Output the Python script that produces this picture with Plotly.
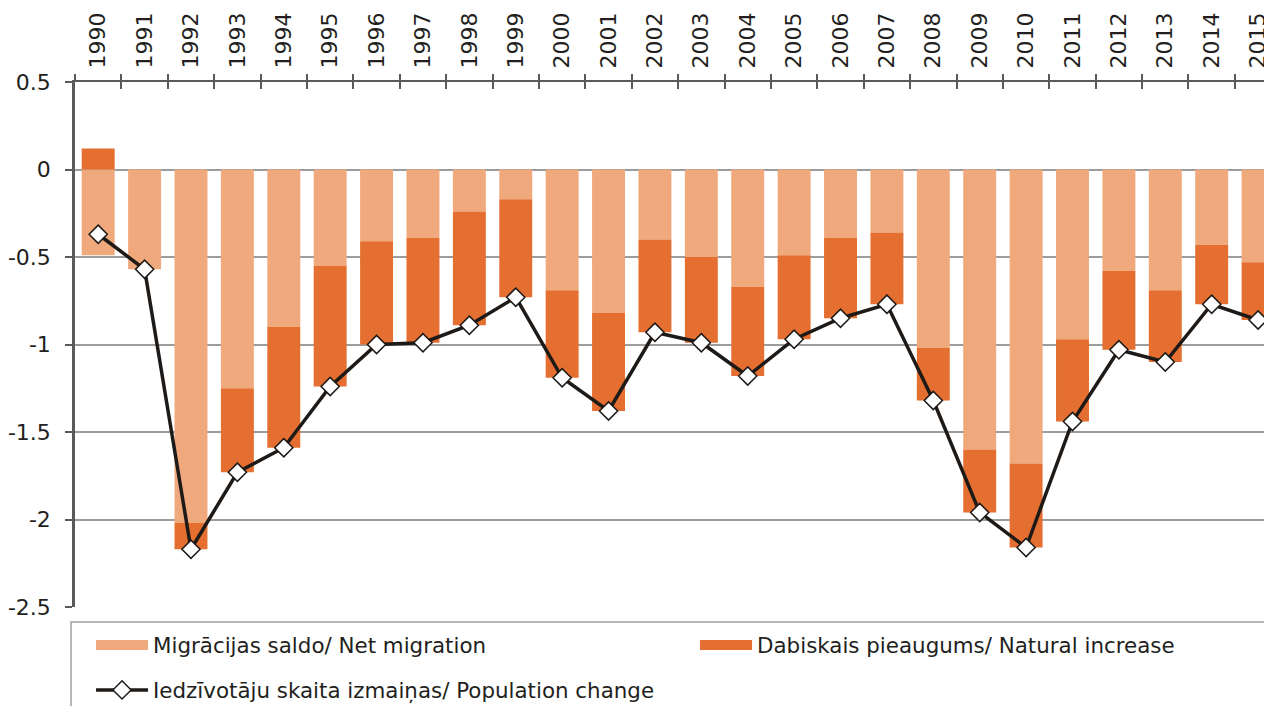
import plotly.graph_objects as go

# Data (% of population)
years = [str(y) for y in range(1990, 2016)]
net_migration = [-0.49, -0.57, -2.02, -1.25, -0.90, -0.55, -0.41, -0.39, -0.24, -0.17,
                 -0.69, -0.82, -0.40, -0.50, -0.67, -0.49, -0.39, -0.36, -1.02, -1.60,
                 -1.68, -0.97, -0.58, -0.69, -0.43, -0.53]
natural_increase = [0.12, 0.00, -0.15, -0.48, -0.69, -0.69, -0.59, -0.60, -0.65, -0.56,
                    -0.50, -0.56, -0.53, -0.49, -0.51, -0.48, -0.46, -0.41, -0.30, -0.36,
                    -0.48, -0.47, -0.45, -0.41, -0.34, -0.33]
population_change = [-0.37, -0.57, -2.17, -1.73, -1.59, -1.24, -1.00, -0.99, -0.89, -0.73,
                     -1.19, -1.38, -0.93, -0.99, -1.18, -0.97, -0.85, -0.77, -1.32, -1.96,
                     -2.16, -1.44, -1.03, -1.10, -0.77, -0.86]

y_ticks = [0.5, 0, -0.5, -1, -1.5, -2, -2.5]
y_tick_text = ['0.5', '0', '-0.5', '-1', '-1.5', '-2', '-2.5']

names = ['Migrācijas saldo/ Net migration',
         'Dabiskais pieaugums/ Natural increase',
         'Iedzīvotāju skaita izmaiņas/ Population change']

colors = {
    'migration': '#EFA97C',
    'natural': '#E46F30',
    'line': '#1E1A17',
    'axis': '#5A5A5A',
    'grid': '#9C9C9C',
    'text': '#231F20'
}

fig = go.Figure()

# stacked bars
fig.add_trace(go.Bar(
    x=years, y=net_migration, name=names[0], showlegend=False,
    marker=dict(color=colors['migration'], line=dict(width=0))
))
fig.add_trace(go.Bar(
    x=years, y=natural_increase, name=names[1], showlegend=False,
    marker=dict(color=colors['natural'], line=dict(width=0))
))

# population change line
fig.add_trace(go.Scatter(
    x=years, y=population_change, name=names[2],
    mode='lines+markers',
    line=dict(color=colors['line'], width=3.5),
    marker=dict(symbol='diamond', size=14, color='white',
                line=dict(color=colors['line'], width=1.5)),
    legend='legend2'
))

# wide swatches for the bar legend entries (legend only)
fig.add_trace(go.Scatter(
    x=[None], y=[None], name=names[0], mode='lines',
    line=dict(color=colors['migration'], width=12),
    legend='legend', legendwidth=537
))
fig.add_trace(go.Scatter(
    x=[None], y=[None], name=names[1], mode='lines',
    line=dict(color=colors['natural'], width=12),
    legend='legend'
))

# invisible helper so the overlay axis can draw the inner half of the top ticks
fig.add_trace(go.Scatter(
    x=years, y=population_change, xaxis='x2', mode='markers',
    marker=dict(opacity=0), showlegend=False, hoverinfo='skip'
))

legend_style = dict(
    orientation='h', xanchor='left', yanchor='middle', yref='container',
    bgcolor='rgba(0,0,0,0)', borderwidth=0,
    font=dict(size=21.4, color=colors['text']),
    itemwidth=52
)

# the page adds an 8px body margin, so the figure is 8px smaller and margins shifted
fig.update_layout(
    barmode='relative',
    bargap=0.29,
    width=1264, height=698,
    margin=dict(l=67, r=0, t=74, b=99),
    plot_bgcolor='white',
    paper_bgcolor='white',
    font=dict(family='DejaVu Sans', size=22, color=colors['text']),
    showlegend=True,
    legend=dict(x=0.0134, y=0.0874, **legend_style),
    legend2=dict(x=0.0134, y=0.0229, **legend_style),
    shapes=[dict(type='rect', xref='paper', yref='paper',
                 x0=-0.0033, x1=1.01, y0=-0.0286, y1=-0.25,
                 line=dict(color='#A0A0A0', width=1.5), fillcolor='rgba(0,0,0,0)')],
    xaxis2=dict(
        overlaying='x', side='top', matches='x', type='category',
        ticks='inside', tickson='boundaries', ticklen=7,
        tickcolor=colors['axis'], tickwidth=2,
        showticklabels=False, showline=False, showgrid=False,
        automargin=False
    )
)

fig.layout.xaxis.update(
    side='top',
    type='category',
    range=[-0.5, 25.3],
    tickangle=-90,
    showline=True, linecolor=colors['axis'], linewidth=2,
    ticks='outside', tickson='boundaries', ticklen=6,
    tickcolor=colors['axis'], tickwidth=2,
    showgrid=False,
    ticklabelstandoff=7,
    automargin=False,
    tickfont=dict(size=22)
)

fig.update_yaxes(
    range=[-2.5, 0.5],
    tickvals=y_ticks, ticktext=y_tick_text,
    showline=True, linecolor=colors['axis'], linewidth=2.5,
    ticks='outside', ticklen=7, tickcolor=colors['axis'], tickwidth=2,
    showgrid=True, gridcolor=colors['grid'], gridwidth=2,
    zeroline=False,
    ticklabelstandoff=10,
    automargin=False,
    tickfont=dict(size=22)
)

fig.write_html("out.html")
